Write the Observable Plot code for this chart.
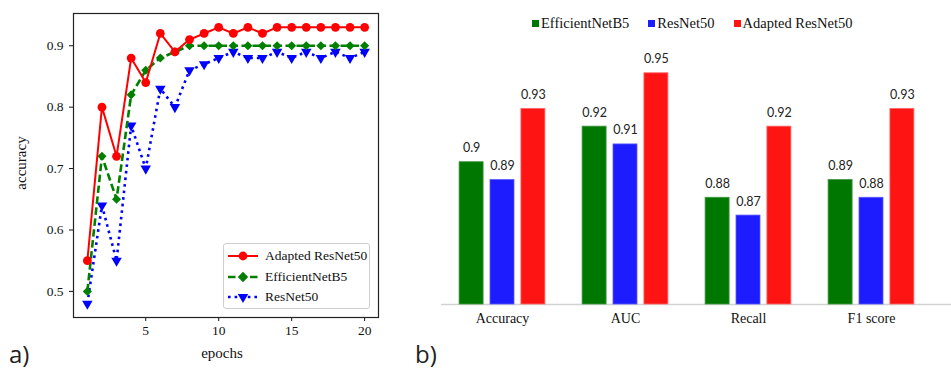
<!DOCTYPE html>
<html><head><meta charset="utf-8">
<script src="https://cdn.jsdelivr.net/npm/d3@7"></script>
<script src="https://cdn.jsdelivr.net/npm/@observablehq/plot@0.6"></script>
<style>
html,body{margin:0;padding:0;background:#fff}
#root{position:relative;width:951px;height:369px;overflow:hidden;background:#fff}
.panel{position:absolute;top:0}
#legA{position:absolute;left:223px;top:243px;width:147px;height:66px;border:1px solid #cfcfcf;border-radius:3px;background:rgba(255,255,255,0.9);box-sizing:border-box;padding-top:2px;overflow:visible}
#legA .row{display:flex;align-items:center;height:20.5px;font-family:"Liberation Serif",serif;font-size:13.5px;color:#111;white-space:nowrap}
#legA svg{margin-left:4px;margin-right:7px;flex:none}
#legB{position:absolute;left:532px;top:15px;display:flex;align-items:center;font-family:"Liberation Serif",serif;font-size:14.5px;color:#111;white-space:nowrap}
#legB .sw{display:inline-block;width:7px;height:7px;margin-right:2px}
#legB .it{display:flex;align-items:center;margin-right:19px}
#overlay{position:absolute;left:0;top:0;pointer-events:none}
</style></head><body>
<div id="root">
  <div id="a" class="panel" style="left:0px"></div>
  <div id="b" class="panel" style="left:400px"></div>
  <div id="legA"></div>
  <div id="legB"></div>
  <svg id="overlay" width="951" height="369"></svg>
</div>
<script>
// ---------- data: panel a ----------
const epochs = [1,2,3,4,5,6,7,8,9,10,11,12,13,14,15,16,17,18,19,20];
const adaptedAcc = [0.55,0.80,0.72,0.88,0.84,0.92,0.89,0.91,0.92,0.93,0.92,0.93,0.92,0.93,0.93,0.93,0.93,0.93,0.93,0.93];
const efficientAcc = [0.50,0.72,0.65,0.82,0.86,0.88,0.89,0.90,0.90,0.90,0.90,0.90,0.90,0.90,0.90,0.90,0.90,0.90,0.90,0.90];
const resnetAcc = [0.48,0.64,0.55,0.77,0.70,0.83,0.80,0.86,0.87,0.88,0.89,0.88,0.88,0.89,0.88,0.89,0.88,0.89,0.88,0.89];
const lineSeries = ["Adapted ResNet50","EfficientNetB5","ResNet50"];
const xTicks = [5,10,15,20];
const yTicks = [0.5,0.6,0.7,0.8,0.9];

// ---------- data: panel b ----------
const metrics = ["Accuracy","AUC","Recall","F1 score"];
const barModels = ["EfficientNetB5","ResNet50","Adapted ResNet50"];
const efficientScores = [0.90,0.92,0.88,0.89];
const resnetScores = [0.89,0.91,0.87,0.88];
const adaptedScores = [0.93,0.95,0.92,0.93];
const yBase = 0.82;

// ---------- styles ----------
const triangleDown = {
  draw(ctx, size) {
    const y = Math.sqrt(size / (Math.sqrt(3) * 3));
    ctx.moveTo(0, 2 * y);
    ctx.lineTo(-Math.sqrt(3) * y, -y);
    ctx.lineTo(Math.sqrt(3) * y, -y);
    ctx.closePath();
  }
};
const lineStyle = {
  "Adapted ResNet50": {color: "#ff0000", dash: null, width: 2, symbol: d3.symbolCircle, plotSymbol: "circle", r: 4.4},
  "EfficientNetB5": {color: "#008000", dash: "7.5,3.5", width: 2.6, symbol: d3.symbolSquare, rot: 45, plotSymbol: "diamond2", r: 4.1},
  "ResNet50": {color: "#0000ff", dash: "2.6,4", width: 2.6, symbol: triangleDown, plotSymbol: triangleDown, r: 3.9}
};
const barColors = {"EfficientNetB5": "#007800", "ResNet50": "#1c1cff", "Adapted ResNet50": "#ff1414"};
const barEdge = {"EfficientNetB5": "#3f963f", "ResNet50": "#5a5aff", "Adapted ResNet50": "#ff6a6a"};

// ---------- panel a ----------
const accBySeries = {"Adapted ResNet50": adaptedAcc, "EfficientNetB5": efficientAcc, "ResNet50": resnetAcc};
const lineRows = lineSeries.flatMap(s => epochs.map((e, i) => ({series: s, epoch: e, acc: accBySeries[s][i]})));

const lineMarks = [];
for (const s of ["ResNet50","EfficientNetB5","Adapted ResNet50"]) {
  const st = lineStyle[s];
  const rows = lineRows.filter(d => d.series === s);
  lineMarks.push(Plot.line(rows, {x: "epoch", y: "acc", stroke: st.color, strokeWidth: st.width,
    strokeDasharray: st.dash, strokeLinecap: "butt", strokeLinejoin: "round"}));
  lineMarks.push(Plot.dot(rows, {x: "epoch", y: "acc", fill: st.color, stroke: "none",
    symbol: st.plotSymbol, r: st.r}));
}

const plotA = Plot.plot({
  width: 390, height: 369,
  marginLeft: 73, marginRight: 12, marginTop: 13, marginBottom: 52,
  style: {fontFamily: "Liberation Serif, serif", fontSize: "13.5px", color: "#111", background: "transparent"},
  x: {domain: [0.05, 20.95], ticks: xTicks, tickSize: 4, tickPadding: 4, label: null},
  y: {domain: [0.4575, 0.9525], ticks: yTicks, tickSize: 4, tickPadding: 6, tickFormat: d => d.toFixed(1), label: null},
  marks: [...lineMarks, Plot.frame({stroke: "#222", strokeWidth: 1.2})]
});
document.getElementById("a").append(plotA);

// legend a
const legA = d3.select("#legA");
for (const s of lineSeries) {
  const st = lineStyle[s];
  const row = legA.append("div").attr("class", "row");
  const svg = row.append("svg").attr("width", 30).attr("height", 14);
  svg.append("line").attr("x1", 0).attr("x2", 30).attr("y1", 7).attr("y2", 7)
    .attr("stroke", st.color).attr("stroke-width", st.width).attr("stroke-dasharray", st.dash);
  svg.append("path").attr("d", d3.symbol(st.symbol, Math.PI * st.r * st.r)())
    .attr("transform", `translate(15,7) rotate(${st.rot || 0})`).attr("fill", st.color);
  row.append("span").text(s);
}

// ---------- panel b ----------
const scoresByModel = {"EfficientNetB5": efficientScores, "ResNet50": resnetScores, "Adapted ResNet50": adaptedScores};
const barRows = metrics.flatMap((m, j) => barModels.map(model => ({metric: m, model, value: scoresByModel[model][j]})));
const barStep = 30.9;

const barMarks = [Plot.ruleY([yBase], {stroke: "#d2d2d2", strokeWidth: 1.5})];
barModels.forEach((model, i) => {
  const rows = barRows.filter(d => d.model === model);
  barMarks.push(Plot.barY(rows, {x: "metric", y1: () => yBase, y2: "value", fill: barColors[model],
    stroke: barEdge[model], strokeWidth: 0.8, dx: (i - 1) * barStep}));
  barMarks.push(Plot.text(rows, {x: "metric", y: "value", text: d => String(d.value), dx: (i - 1) * barStep,
    dy: -14, fontFamily: "Lato, sans-serif", fontSize: 12.5, fill: "#222"}));
});

const plotB = Plot.plot({
  width: 551, height: 369,
  marginLeft: 41, marginRight: 0, marginTop: 55, marginBottom: 65,
  style: {fontFamily: "Liberation Serif, serif", fontSize: "14px", color: "#111", background: "transparent"},
  x: {domain: metrics, range: [39.2, 533.8], paddingInner: 0.803, paddingOuter: 0.4015, tickSize: 0, tickPadding: 9, label: null},
  y: {domain: [yBase, 0.96], axis: null},
  marks: barMarks
});
document.getElementById("b").append(plotB);

// legend b
const legB = d3.select("#legB");
for (const model of barModels) {
  const it = legB.append("div").attr("class", "it");
  it.append("span").attr("class", "sw").style("background", barColors[model]);
  it.append("span").text(model);
}

// ---------- overlay labels ----------
const ov = d3.select("#overlay");
ov.append("text").attr("x", 222).attr("y", 358).attr("text-anchor", "middle")
  .attr("font-family", "Liberation Serif, serif").attr("font-size", 15).attr("fill", "#111").text("epochs");
ov.append("text").attr("transform", "translate(26,163) rotate(-90)").attr("text-anchor", "middle")
  .attr("font-family", "Liberation Serif, serif").attr("font-size", 15).attr("fill", "#111").text("accuracy");
ov.append("text").attr("x", 9).attr("y", 363).attr("font-family", "Open Sans, sans-serif")
  .attr("font-size", 24).attr("fill", "#222").text("a)");
ov.append("text").attr("x", 415).attr("y", 363).attr("font-family", "Open Sans, sans-serif")
  .attr("font-size", 24).attr("fill", "#222").text("b)");
</script>
</body></html>
